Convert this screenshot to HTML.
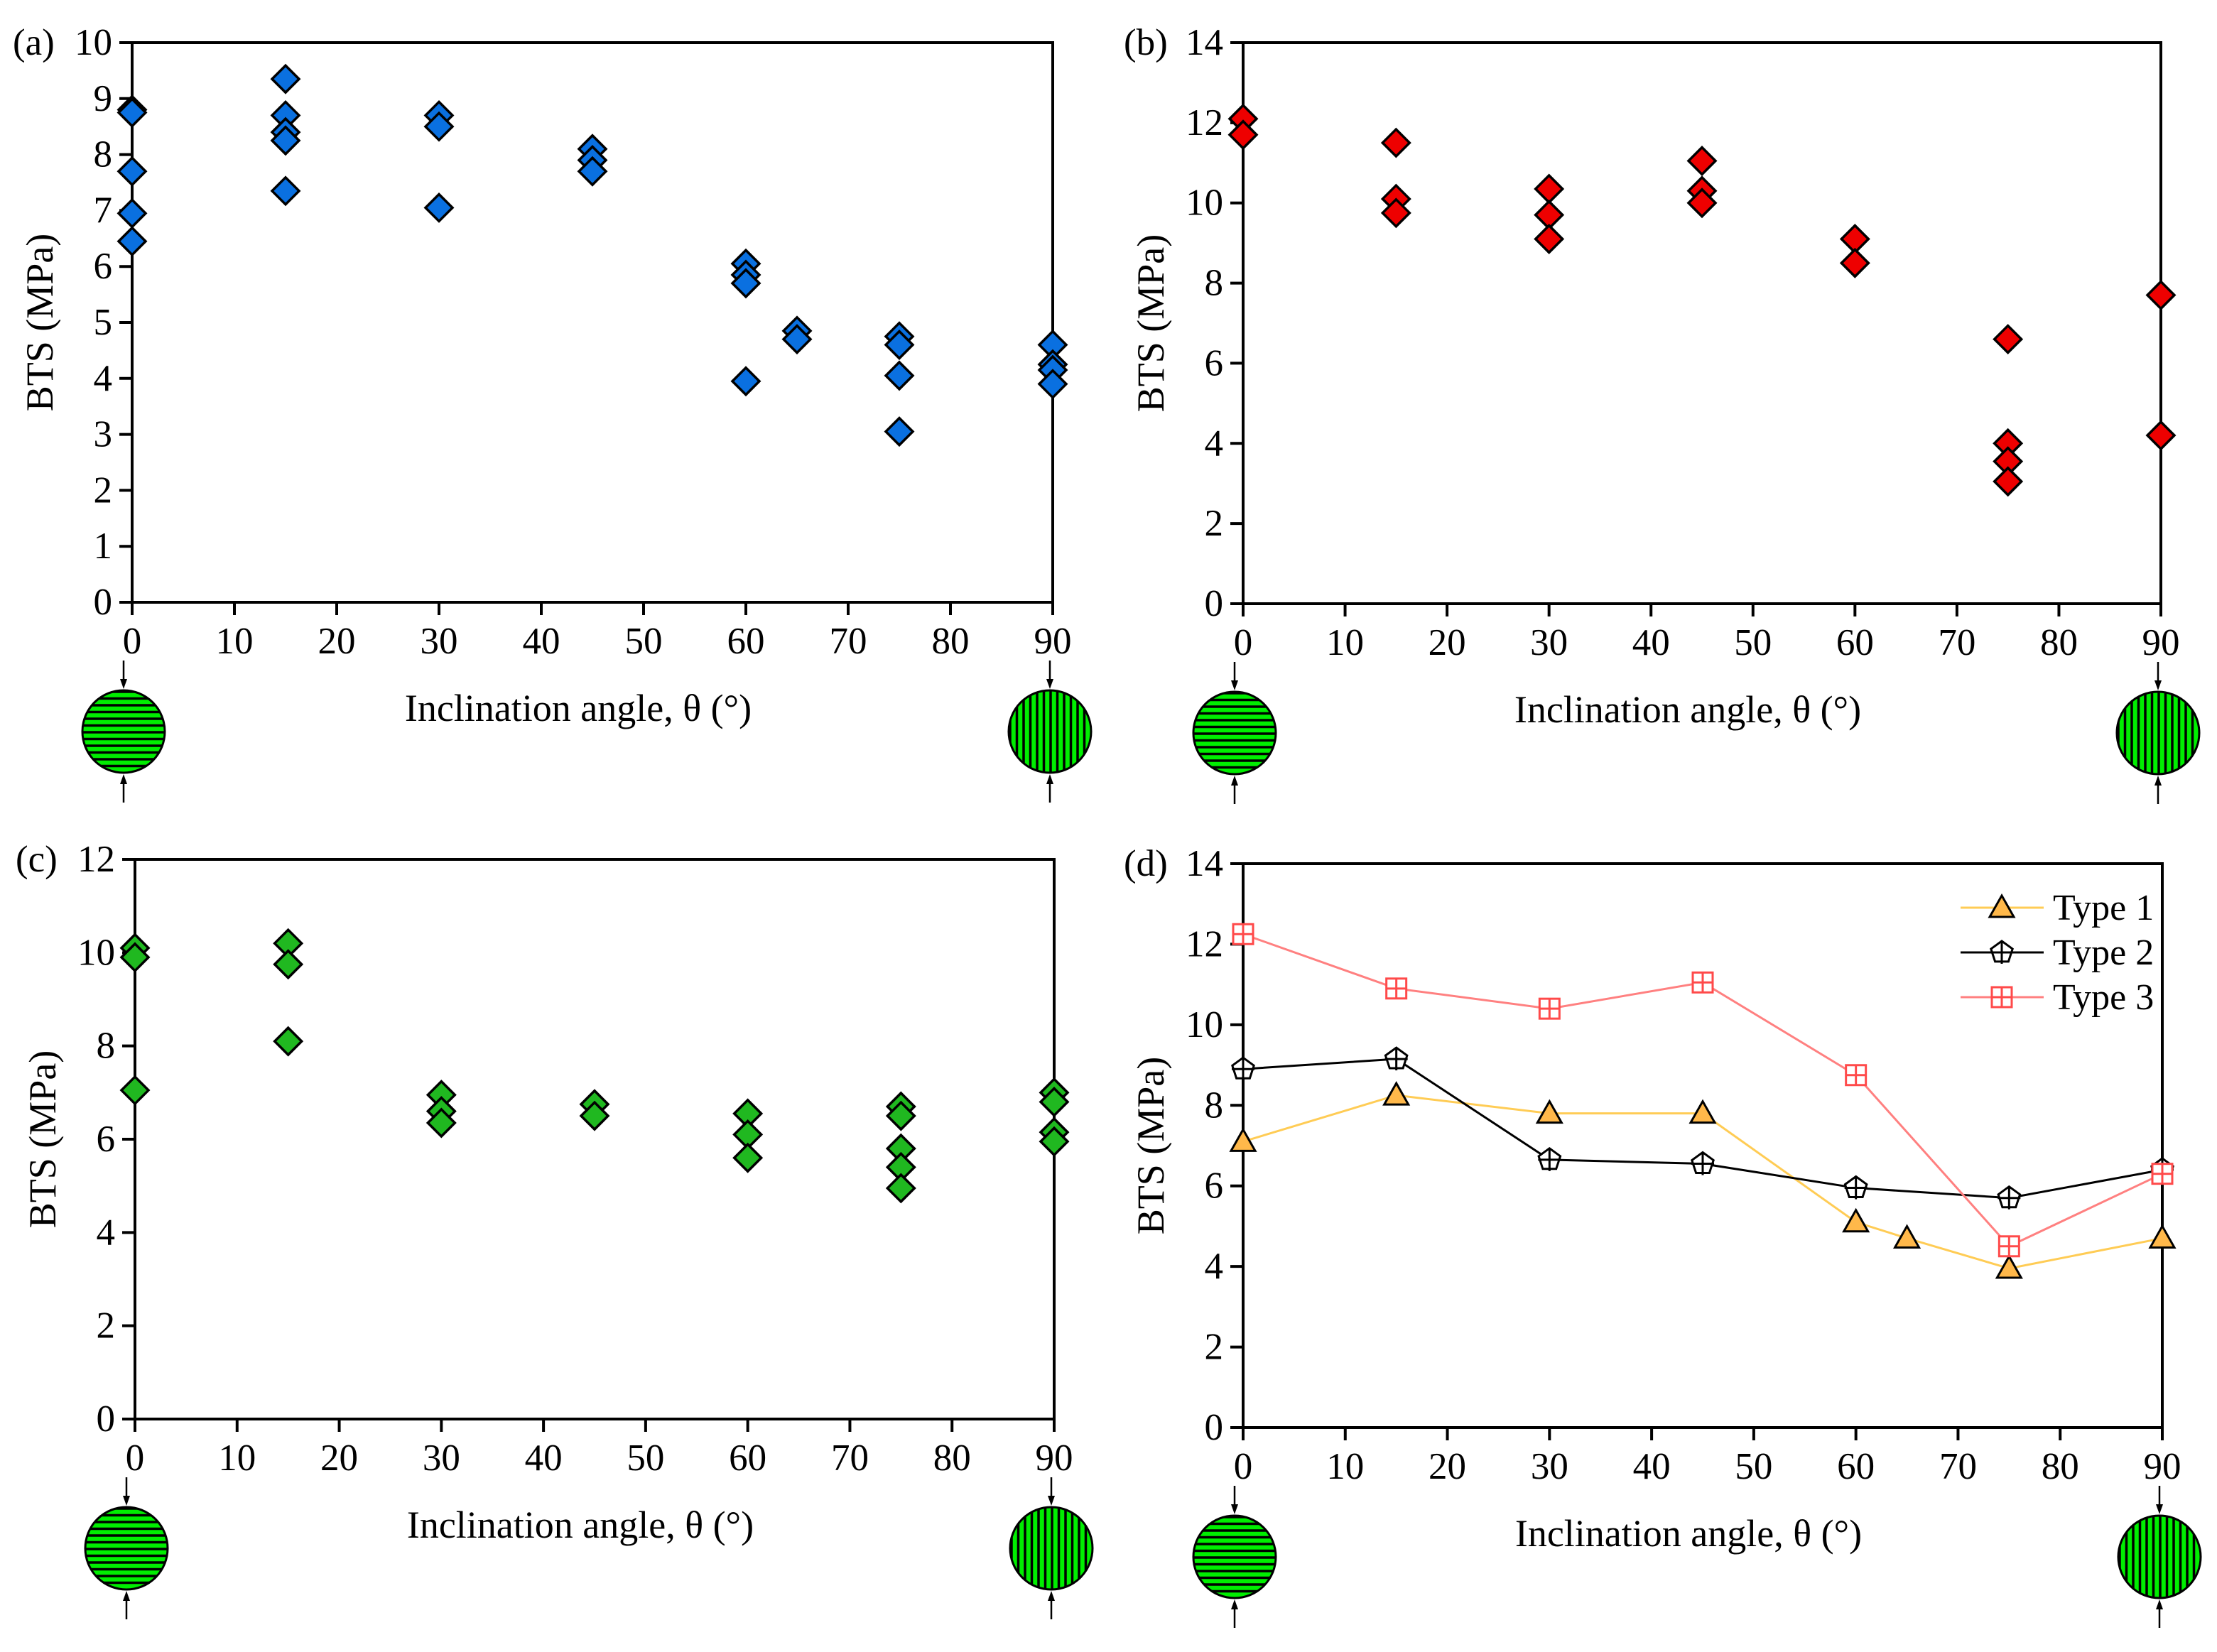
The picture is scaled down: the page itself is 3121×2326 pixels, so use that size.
<!DOCTYPE html>
<html><head><meta charset="utf-8"><style>
html,body{margin:0;padding:0;background:#fff;}
svg text{font-family:"Liberation Serif",serif;fill:#000;}
</style></head><body>
<svg id="fig" width="3121" height="2321" viewBox="0 0 3121 2321" xmlns="http://www.w3.org/2000/svg">
<defs>
<clipPath id="cc"><circle cx="0" cy="0" r="58"/></clipPath>
</defs>
</svg>
<script>
// ---- data ----
const aX = [0,0,0,0,0,15,15,15,15,15,30,30,30,45,45,45,60,60,60,60,65,65,75,75,75,75,90,90,90,90];
const aY = [8.8,8.75,7.7,6.95,6.45,9.35,8.7,8.4,8.25,7.35,8.7,8.5,7.05,8.1,7.9,7.7,6.05,5.85,5.7,3.95,4.85,4.7,4.75,4.6,4.05,3.05,4.6,4.25,4.15,3.9];
const bX = [0,0,15,15,15,30,30,30,45,45,45,60,60,75,75,75,75,90,90];
const bY = [12.1,11.7,11.5,10.1,9.75,10.35,9.7,9.1,11.05,10.3,10.0,9.1,8.5,6.6,4.0,3.55,3.05,7.7,4.2];
const cX = [0,0,0,15,15,15,30,30,30,45,45,60,60,60,75,75,75,75,75,90,90,90,90];
const cY = [10.1,9.9,7.05,10.2,9.75,8.1,6.95,6.6,6.35,6.75,6.5,6.55,6.1,5.6,6.7,6.5,5.8,5.4,4.95,7.0,6.8,6.15,5.95];
const t1X = [0,15,30,45,60,65,75,90];
const t1Y = [7.1,8.25,7.8,7.8,5.1,4.7,3.95,4.7];
const t2X = [0,15,30,45,60,75,90];
const t2Y = [8.9,9.15,6.65,6.55,5.95,5.7,6.4];
const t3X = [0,15,30,45,60,75,90];
const t3Y = [12.25,10.9,10.4,11.05,8.75,4.5,6.3];
const xTicks = [0,10,20,30,40,50,60,70,80,90];
const aTicks = [0,1,2,3,4,5,6,7,8,9,10];
const evenTicks14 = [0,2,4,6,8,10,12,14];
const evenTicks12 = [0,2,4,6,8,10,12];

const svg = document.getElementById('fig');
const NS = 'http://www.w3.org/2000/svg';
function mk(tag, attrs, parent){const e=document.createElementNS(NS,tag);for(const k in attrs)e.setAttribute(k,attrs[k]);(parent||svg).appendChild(e);return e;}

function panel(id, L, T, R, B, ymax, yticks, lab){
  const g = mk('g',{});
  
  
  const sx = v => L + v/90*(R-L);
  const sy = v => B - v/ymax*(B-T);
  mk('rect',{x:L,y:T,width:R-L,height:B-T,fill:'none',stroke:'#000','stroke-width':4},g);
  yticks.forEach(t=>{
    mk('line',{x1:L-18,x2:L,y1:sy(t),y2:sy(t),stroke:'#000','stroke-width':4},g);
    const tx=mk('text',{x:L-28,y:sy(t)+17,'text-anchor':'end','font-size':53},g);tx.textContent=t;
    
    
  });
  xTicks.forEach(t=>{
    mk('line',{x1:sx(t),x2:sx(t),y1:B,y2:B+18,stroke:'#000','stroke-width':4},g);
    const tx=mk('text',{x:sx(t),y:B+72,'text-anchor':'middle','font-size':53},g);tx.textContent=t;
    
    
  });
  const pl=mk('text',{x:L-168,y:T+17,'font-size':53},g);pl.textContent=lab;
  
  
  const xt=mk('text',{x:(L+R)/2-20,y:B+167,'text-anchor':'middle','font-size':54},g);xt.textContent='Inclination angle, θ (°)';
  
  
  const yc=(T+B)/2;
  const yt=mk('text',{x:L-112,y:yc,'text-anchor':'middle','font-size':54,transform:`rotate(-90 ${L-112} ${yc})`},g);yt.textContent='BTS (MPa)';
  
  
  disc(g, L-12, B+182, true);
  disc(g, R-4, B+182, false);
  return {sx,sy,g};
}
function disc(g,cx,cy,horiz){
  const d=mk('g',{transform:`translate(${cx},${cy})`},g);
  
  
  mk('circle',{cx:0,cy:0,r:58,fill:'#00ee00'},d);
  const s=mk('g',{'clip-path':'url(#cc)'},d);
  for(let i=-56;i<=56;i+=9.5){
    if(horiz) mk('line',{x1:-60,x2:60,y1:i,y2:i,stroke:'#000','stroke-width':3.5},s);
    else mk('line',{y1:-60,y2:60,x1:i,x2:i,stroke:'#000','stroke-width':3.5},s);
  }
  mk('circle',{cx:0,cy:0,r:58,fill:'none',stroke:'#000','stroke-width':3},d);
  mk('line',{x1:0,x2:0,y1:-100,y2:-72,stroke:'#000','stroke-width':2.5},d);
  mk('path',{d:'M-5,-74 L5,-74 L0,-60 Z',fill:'#000'},d);
  mk('line',{x1:0,x2:0,y1:100,y2:72,stroke:'#000','stroke-width':2.5},d);
  mk('path',{d:'M-5,74 L5,74 L0,60 Z',fill:'#000'},d);
}
function diamonds(p, xs, ys, color, name){
  xs.forEach((x,i)=>{
    const cx=p.sx(x), cy=p.sy(ys[i]), r=19;
    const e=mk('path',{d:`M${cx},${cy-r} L${cx+r},${cy} L${cx},${cy+r} L${cx-r},${cy} Z`,fill:color,stroke:'#000','stroke-width':3.5},p.g);
    
    
  });
}
const pa=panel('a',186,60,1482,848,10,aTicks,'(a)');
diamonds(pa,aX,aY,'#0a70e0','point-a');
const pb=panel('b',1750,60,3042,850,14,evenTicks14,'(b)');
diamonds(pb,bX,bY,'#ee0000','point-b');
const pc=panel('c',190,1210,1484,1998,12,evenTicks12,'(c)');
diamonds(pc,cX,cY,'#20b820','point-c');
const pd=panel('d',1750,1216,3044,2010,14,evenTicks14,'(d)');

function marker(g,kind,cx,cy){
  if(kind===1) return mk('path',{d:`M${cx},${cy-17} L${cx+17},${cy+13} L${cx-17},${cy+13} Z`,fill:'#ffb84a',stroke:'#000','stroke-width':3},g);
  if(kind===2){const m=mk('g',{},g);
    let pts=[];for(let k=0;k<5;k++){const a=-Math.PI/2+k*2*Math.PI/5;pts.push((cx+16*Math.cos(a)).toFixed(1)+','+(cy+16*Math.sin(a)).toFixed(1));}
    mk('polygon',{points:pts.join(' '),fill:'#fff',stroke:'#000','stroke-width':3},m);
    mk('line',{x1:cx,x2:cx,y1:cy-16,y2:cy+16,stroke:'#000','stroke-width':3},m);
    mk('line',{x1:cx-16,x2:cx+16,y1:cy,y2:cy,stroke:'#000','stroke-width':3},m);return m;}
  const m=mk('g',{},g);
  mk('rect',{x:cx-14,y:cy-14,width:28,height:28,fill:'#fff',stroke:'#ff4a4a','stroke-width':3},m);
  mk('line',{x1:cx,x2:cx,y1:cy-14,y2:cy+14,stroke:'#ff4a4a','stroke-width':3},m);
  mk('line',{x1:cx-14,x2:cx+14,y1:cy,y2:cy,stroke:'#ff4a4a','stroke-width':3},m);return m;
}
const series=[[t1X,t1Y,'#ffcc55',1,'type-1'],[t2X,t2Y,'#000',2,'type-2'],[t3X,t3Y,'#ff8080',3,'type-3']];
series.forEach(([xs,ys,col,k,nm])=>{
  const ln=mk('polyline',{points:xs.map((x,i)=>pd.sx(x)+','+pd.sy(ys[i])).join(' '),fill:'none',stroke:col,'stroke-width':3},pd.g);
  
  
});
series.forEach(([xs,ys,col,k,nm])=>{
  xs.forEach((x,i)=>{
    const m=marker(pd.g,k,pd.sx(x),pd.sy(ys[i]));
    
    
  });
});
const lg=mk('g',{});


const legendNames=['Type 1','Type 2','Type 3'];
series.forEach(([xs,ys,col,k,nm],i)=>{
  const y=1278+i*63;
  const e=mk('g',{},lg);
  
  
  mk('line',{x1:2760,x2:2877,y1:y,y2:y,stroke:col,'stroke-width':3},e);
  marker(e,k,2818,y);
  const t=mk('text',{x:2890,y:y+17,'font-size':52},e);t.textContent=legendNames[i];
});
</script>
</body></html>
